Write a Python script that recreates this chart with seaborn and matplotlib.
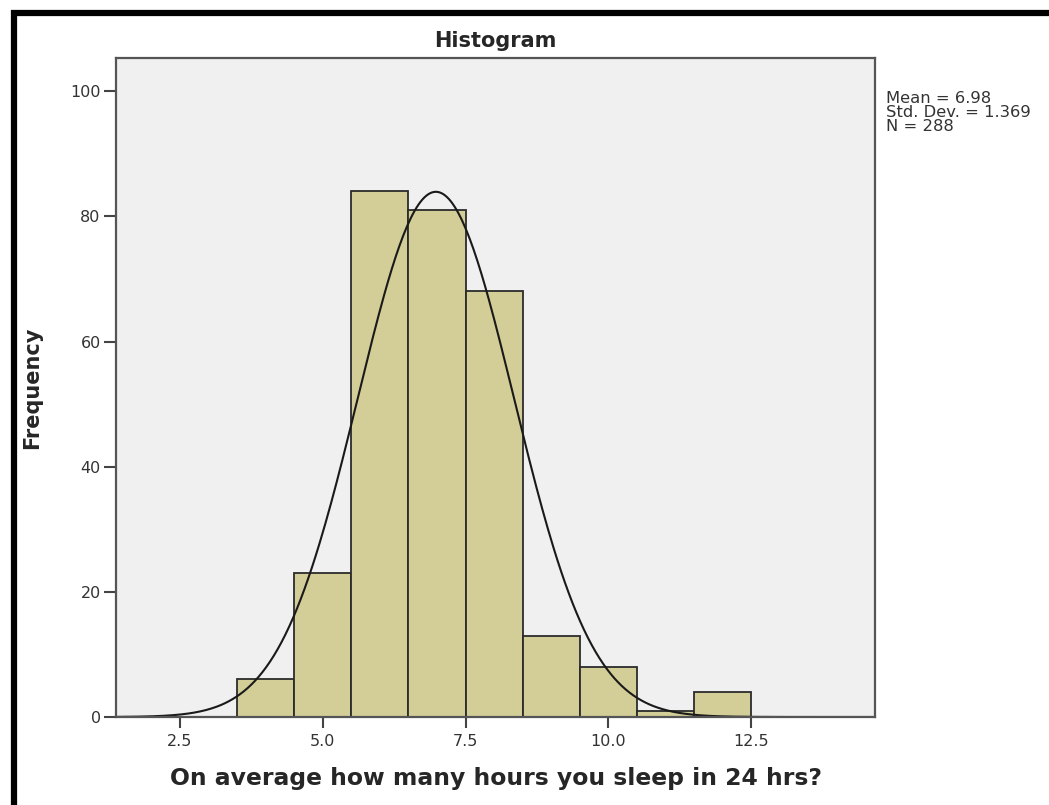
import numpy as np
import matplotlib
matplotlib.use('Agg')
import matplotlib.pyplot as plt
import seaborn as sns

# histogram bins (hours) and frequencies
bin_edges = [3.5, 4.5, 5.5, 6.5, 7.5, 8.5, 9.5, 10.5, 11.5, 12.5]
bin_centers = [4.0, 5.0, 6.0, 7.0, 8.0, 9.0, 10.0, 11.0, 12.0]
counts = [6, 23, 84, 81, 68, 13, 8, 1, 4]

# summary statistics shown in the legend
mean_val = 6.98
std_val = 1.369
n_val = 288

x_ticks = [2.5, 5.0, 7.5, 10.0, 12.5]
y_ticks = [0, 20, 40, 60, 80, 100]

sns.set_style('white')
plt.rcParams['font.family'] = ['DejaVu Sans']

fig = plt.figure(figsize=(10.49, 8.05), dpi=100)
ax = fig.add_axes([0.1106, 0.1093, 0.7236, 0.8186])
ax.set_facecolor('#F0F0F0')

sns.histplot(x=bin_centers, weights=counts, bins=bin_edges, ax=ax,
             color='#D3CE97', edgecolor='#2b2b2b', linewidth=1.3, alpha=1)

# normal curve scaled to counts (bin width 1)
xs = np.linspace(1.38, 14.67, 400)
ys = n_val * 1.0 / (std_val * np.sqrt(2 * np.pi)) * np.exp(-0.5 * ((xs - mean_val) / std_val) ** 2)
ax.plot(xs, ys, color='#1a1a1a', linewidth=1.5)

ax.set_xlim(1.38, 14.67)
ax.set_ylim(0, 105.3)
ax.set_xticks(x_ticks)
ax.set_xticklabels([f'{t:.1f}' for t in x_ticks])
ax.set_yticks(y_ticks)
ax.tick_params(axis='both', direction='out', width=1.5, color='#444444',
               labelsize=11.5, labelcolor='#333333', bottom=True, left=True)
ax.tick_params(axis='x', length=8, pad=4)
ax.tick_params(axis='y', length=9, pad=2)
for s in ax.spines.values():
    s.set_color('#555555')
    s.set_linewidth(1.6)

ax.set_title('Histogram', fontsize=15, fontweight='bold', pad=8)
ax.set_xlabel('On average how many hours you sleep in 24 hrs?', fontsize=16.9,
              fontweight='bold', labelpad=13)
ax.set_ylabel('Frequency', fontsize=15, fontweight='bold', labelpad=20)

fig.text(0.845, 0.887, f'Mean = {mean_val}\nStd. Dev. = {std_val}\nN = {n_val}',
         fontsize=11.8, color='#333333', va='top', ha='left', linespacing=0.92)

# thick black frame on top and left, as in the screenshot
fig.add_artist(plt.Line2D([0.0105, 1.0], [0.984, 0.984], color='black', linewidth=4.5,
                          solid_capstyle='butt', transform=fig.transFigure))
fig.add_artist(plt.Line2D([0.0129, 0.0129], [0.0, 0.987], color='black', linewidth=4.5,
                          solid_capstyle='butt', transform=fig.transFigure))

fig.savefig('out.png', dpi=100)
